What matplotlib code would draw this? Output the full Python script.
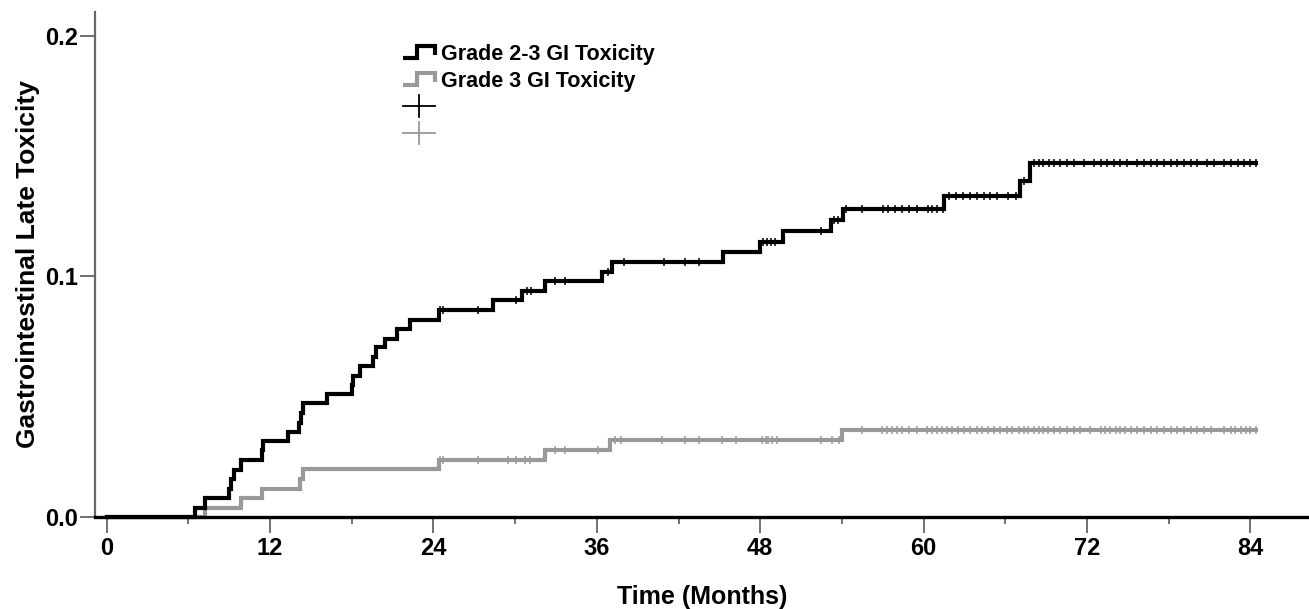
import numpy as np
import matplotlib
matplotlib.use("Agg")
import matplotlib.pyplot as plt
from matplotlib.lines import Line2D
from matplotlib.legend_handler import HandlerBase

plt.rcParams['font.family'] = ['Liberation Sans', 'DejaVu Sans']

# ---------------- data ----------------
series_names = ["Grade 2-3 GI Toxicity", "Grade 3 GI Toxicity"]

g23_event_times = [6.5, 7.2, 9.0, 9.15, 9.35, 9.9, 11.4, 11.5, 13.35, 14.1, 14.25, 14.4,
                   16.2, 18.0, 18.1, 18.6, 19.6, 19.8, 20.45, 21.3, 22.3, 24.4,
                   28.4, 30.5, 32.2, 36.4, 37.1, 45.3, 48.0, 49.7, 53.2, 54.1,
                   61.5, 67.1, 67.8]
g23_values = [0.0037, 0.0076, 0.0115, 0.0157, 0.0194, 0.0233, 0.0275, 0.0314, 0.0351, 0.0389,
              0.0430, 0.0470, 0.0508, 0.0546, 0.0586, 0.0625, 0.0664, 0.0703, 0.0740, 0.0778,
              0.0817, 0.0858, 0.0900, 0.0939, 0.0979, 0.1018, 0.1060, 0.1100, 0.1143, 0.1188,
              0.1233, 0.1278, 0.1331, 0.1397, 0.1472]
g23_censor_times = [24.5, 24.7, 27.3, 30.1, 30.9, 31.2, 32.9, 33.7, 36.8, 38.0, 40.9, 42.5, 43.5,
                    48.2, 48.5, 48.8, 49.1, 52.5, 53.4, 53.7, 54.3, 55.5, 57.0, 57.4, 57.9, 58.4,
                    58.9, 59.5, 60.3, 60.6, 61.0, 61.4, 61.9, 62.4, 62.9, 63.4, 63.9, 64.4, 64.9,
                    65.4, 66.2, 66.8, 67.4, 68.1, 68.5, 68.8, 69.2, 69.6, 70.05, 70.55, 71.05,
                    71.8, 72.5, 73.0, 73.5, 74.0, 74.45, 74.95, 75.7, 76.2, 76.7, 77.15, 77.65,
                    78.15, 78.6, 79.1, 79.6, 80.1, 80.8, 81.3, 82.05, 82.55, 83.05, 83.55, 84.0,
                    84.4]

g3_event_times = [7.2, 9.9, 11.4, 14.2, 14.4, 24.4, 32.2, 37.0, 54.0]
g3_values = [0.0036, 0.0076, 0.0115, 0.0157, 0.0196, 0.0233, 0.0275, 0.0317, 0.0361]
g3_censor_times = [24.5, 24.7, 27.3, 29.5, 30.1, 30.7, 31.1, 32.9, 33.7, 36.1, 37.3, 37.8, 40.8,
                   42.5, 43.5, 45.2, 46.2, 48.1, 48.4, 48.6, 48.9, 49.2, 52.5, 53.3, 53.8, 55.5,
                   56.95, 57.3, 57.7, 58.05, 58.4, 58.9, 59.5, 60.25, 60.6, 61.0, 61.35, 61.7,
                   62.1, 62.5, 62.95, 63.4, 63.9, 64.3, 64.7, 65.15, 65.6, 66.1, 66.5, 67.0,
                   67.35, 67.7, 68.1, 68.5, 68.8, 69.1, 69.6, 70.05, 70.55, 71.05, 71.5, 72.25,
                   73.0, 73.35, 73.7, 74.1, 74.45, 74.8, 75.2, 75.7, 76.2, 76.7, 77.15, 77.65,
                   78.15, 78.6, 79.1, 79.6, 80.1, 80.6, 81.1, 82.05, 82.55, 82.9, 83.3, 83.65,
                   84.0, 84.4]

x_ticks = [0, 12, 24, 36, 48, 60, 72, 84]
x_minor_ticks = [6, 18, 30, 42, 54, 66, 78]
y_ticks = [0.0, 0.1, 0.2]
y_tick_labels = ["0.0", "0.1", "0.2"]
x_label = "Time (Months)"
y_label = "Gastrointestinal Late Toxicity"

# ---------------- figure ----------------
W, H = 1309, 609
fig = plt.figure(figsize=(W / 100, H / 100), dpi=100)
ax = fig.add_axes([95 / W, 1 - 516.5 / H, 1 - 95 / W, (516.5 - 12) / H])

BLACK = "#000000"
GRAY = "#999999"
LW = 3.0


def draw_series(times, values, censors, color, z):
    t_end = max(censors)
    xs = np.concatenate([[0.0], times, [t_end]])
    ys = np.concatenate([[0.0], values, [values[-1]]])
    ax.step(xs, ys, where="post", color=color, lw=LW, zorder=z,
            solid_joinstyle="miter", clip_on=False)
    steps_x = np.concatenate([[0.0], times])
    steps_y = np.concatenate([[0.0], values])
    idx = np.searchsorted(steps_x, censors, side="right") - 1
    cy = steps_y[idx]
    ax.plot(censors, cy, linestyle="none", marker="|", markersize=6,
            markeredgewidth=1.1, color=color, zorder=z + 0.1, clip_on=False)


draw_series(np.array(g3_event_times), np.array(g3_values), np.array(g3_censor_times), GRAY, 2)
draw_series(np.array(g23_event_times), np.array(g23_values), np.array(g23_censor_times), BLACK, 3)

ax.set_xlim(-0.85, 88.3)
ax.set_ylim(0, 0.2098)

for s in ["top", "right"]:
    ax.spines[s].set_visible(False)
ax.spines["bottom"].set_color("#000000")
ax.spines["bottom"].set_linewidth(2.4)
ax.spines["bottom"].set_zorder(5)
ax.spines["left"].set_color("#666666")
ax.spines["left"].set_linewidth(1.6)

ax.set_xticks(x_ticks)
ax.set_xticks(x_minor_ticks, minor=True)
ax.set_xticklabels([str(v) for v in x_ticks])
ax.set_yticks(y_ticks)
ax.set_yticklabels(y_tick_labels)

ax.tick_params(axis="x", which="major", length=11.5, width=1.3, color="#666666",
               labelsize=17, pad=3)
ax.tick_params(axis="x", which="minor", length=5, width=1.3, color="#666666")
ax.tick_params(axis="y", which="major", length=11, width=1.3, color="#666666",
               labelsize=17, pad=1.5)
for lab in ax.get_xticklabels() + ax.get_yticklabels():
    lab.set_fontweight("bold")

ax.set_xlabel(x_label, fontsize=18, fontweight="bold", labelpad=18)
ax.set_ylabel(y_label, fontsize=19, fontweight="bold", labelpad=3)


# ---------------- legend ----------------
class StepHandler(HandlerBase):
    def create_artists(self, legend, orig_handle, xdescent, ydescent, width, height,
                       fontsize, trans):
        x0 = -xdescent
        y0 = -ydescent
        xm = x0 + 0.42 * width
        x1 = x0 + width
        lo = y0 + 0.1 * height
        hi = y0 + 0.95 * height
        xs = [x0, xm, xm, x1, x1]
        ys = [lo, lo, hi, hi, y0 + 0.3 * height]
        ln = Line2D(xs, ys, color=orig_handle.get_color(), lw=orig_handle.get_linewidth(),
                    solid_joinstyle="miter", solid_capstyle="butt", transform=trans)
        return [ln]


class CensorHandler(HandlerBase):
    def create_artists(self, legend, orig_handle, xdescent, ydescent, width, height,
                       fontsize, trans):
        x0 = -xdescent
        y0 = -ydescent
        ym = y0 + 0.5 * height
        xc = x0 + 0.5 * width
        h = Line2D([x0, x0 + width], [ym, ym], color=orig_handle.get_color(), lw=1.3,
                   transform=trans)
        v = Line2D([xc, xc], [y0 - 0.3 * height, y0 + 1.3 * height],
                   color=orig_handle.get_color(), lw=1.3, transform=trans)
        return [h, v]


class CensorKey(Line2D):
    pass


handles = [Line2D([], [], color=BLACK, lw=LW), Line2D([], [], color=GRAY, lw=LW),
           CensorKey([], [], color=BLACK), CensorKey([], [], color=GRAY)]
labels = [series_names[0], series_names[1], "", ""]
leg = fig.legend(handles, labels, loc="upper left", bbox_to_anchor=(403 / W, 1 - 44 / H),
                 frameon=False, fontsize=15.5, handlelength=1.5, handleheight=0.6,
                 handletextpad=0.25, labelspacing=0.27, borderpad=0, borderaxespad=0,
                 handler_map={CensorKey: CensorHandler(), Line2D: StepHandler()})
for t in leg.get_texts():
    t.set_fontweight("bold")

fig.savefig("out.png", dpi=100)
